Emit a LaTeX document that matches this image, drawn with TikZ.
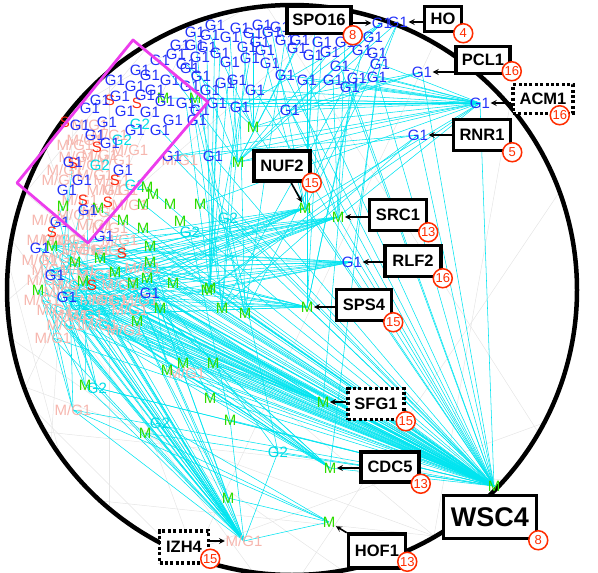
\documentclass[tikz,border=0pt]{standalone}
\usepackage{fontspec}
\setmainfont{Liberation Sans}
\usepackage{xcolor}
\usetikzlibrary{arrows, positioning}
\definecolor{gonecol}{RGB}{35,50,250}
\definecolor{mcol}{RGB}{45,220,0}
\definecolor{scol}{RGB}{255,40,15}
\definecolor{gtwocol}{RGB}{0,220,230}
\definecolor{mgonecol}{RGB}{246,182,174}
\definecolor{linkcol}{RGB}{0,228,240}
\definecolor{badgecol}{RGB}{255,45,0}
\definecolor{zoomcol}{RGB}{236,60,236}
\tikzstyle{arrow} = [line width=1.6pt,->,>=stealth]

\begin{document}
\begin{tikzpicture}[
                x=1pt, y=-1pt,
                box/.style={
                    draw,
                    fill=white,
                    line width=3.5pt,
                    inner sep=1pt,
                    font=\bfseries\fontsize{16.5}{18}\selectfont
                },
                dotbox/.style={
                    box,
                    dash pattern=on 3pt off 2.4pt
                },
                badge/.style={
                    circle,
                    draw=badgecol,
                    fill=white,
                    line width=1.5pt,
                    text=badgecol,
                    inner sep=0pt,
                    minimum size=19pt,
                    font=\fontsize{13}{13}\selectfont
                },
                lbl/.style={inner sep=0.5pt, font=\fontsize{15}{15}\selectfont},
                gone/.style={lbl, text=gonecol},
                mlab/.style={lbl, text=mcol},
                slab/.style={lbl, text=scol},
                gtwo/.style={lbl, text=gtwocol},
                mgone/.style={lbl, text=mgonecol},
                link/.style={draw=linkcol, line width=0.55pt},
                faint/.style={draw=black!10, line width=0.5pt},
                zoomframe/.style={draw=zoomcol, line width=2.8pt, line join=round}
            ]

                \useasboundingbox (0,0) rectangle (598,573);
                \coordinate (ctr) at (292,290);

                % points
                \foreach \n/\x/\y in {1/210/35, 2/230/37, 3/253/33, 4/262/25, 5/272/32, 6/260/42, 7/247/47, 8/220/53,
                    9/207/47, 10/270/63, 11/250/58, 12/230/62, 13/297/48, 14/313/55, 15/300/40, 16/322/42,
                    17/307/80, 18/333/80, 19/350/87, 20/357/78, 21/377/77, 22/380/64, 23/377/53, 24/373/37,
                    25/237/80, 26/240/107, 27/290/110, 28/217/103, 29/225/83, 30/190/68, 31/172/156, 32/213/156,
                    33/160/60, 34/176/54, 35/186/64, 36/150/75, 37/170/80, 38/190/86, 39/135/86, 40/120/96,
                    41/145/95, 42/165/101, 43/186/103, 44/201/76, 45/125/111, 46/150/112, 47/173/120, 48/197/120,
                    49/107/122, 50/110/143, 51/123/170, 52/73/162, 53/67/190, 54/82/180, 55/40/248, 56/67/297,
                    57/150/293, 58/95/135, 59/88/210, 60/60/222, 61/280/27, 62/200/57, 63/104/236, 64/55/275,
                    65/195/32, 66/240/28, 67/215/25, 68/285/40, 69/265/50, 70/315/30, 71/330/52, 72/345/42,
                    73/362/50, 74/340/66, 75/285/75, 76/255/90, 77/210/90, 78/195/45, 79/155/90, 80/140/70,
                    81/180/45, 82/200/110, 83/160/130, 84/135/130, 85/90/108, 86/115/80, 87/80/125, 88/100/100}
                    \coordinate (g\n) at (\x,\y);
                \foreach \n/\x/\y in {1/163/98, 2/195/98, 3/147/187, 4/153/194, 5/143/204, 6/170/204, 7/200/204,
                    8/180/221, 9/123/220, 10/143/228, 11/253/127, 12/238/162, 13/150/246, 14/150/262, 15/133/283,
                    16/210/288, 17/160/308, 18/222/308, 19/245/313, 20/83/281, 21/38/290, 22/147/278, 23/137/321,
                    24/183/363, 25/213/363, 26/167/370, 27/210/398, 28/230/420, 29/145/433, 30/228/498, 31/85/385,
                    32/63/206, 33/52/246, 34/75/262, 35/100/258, 36/115/272, 37/173/283, 38/207/290, 39/98/208}
                    \coordinate (m\n) at (\x,\y);
                \foreach \n/\x/\y in {1/110/100, 2/137/103, 3/97/147, 4/73/163, 5/115/180, 6/83/200, 7/108/202,
                    8/122/253, 9/65/122, 10/52/232, 11/92/285}
                    \coordinate (s\n) at (\x,\y);
                \foreach \n/\x/\y in {1/190/232, 2/228/218, 3/80/305, 4/97/388, 5/160/423, 6/278/452, 7/122/140,
                    8/100/165, 9/135/185, 10/140/124}
                    \coordinate (q\n) at (\x,\y);
                \foreach \n/\x/\y in {1/77/157, 2/180/160, 3/50/270, 4/143/268, 5/53/338, 6/187/373, 7/73/410,
                    8/60/180, 9/80/200, 10/50/220, 11/70/240, 12/40/260, 13/92/250, 14/110/228, 15/62/292,
                    16/100/212, 17/120/190, 18/42/300, 19/78/270, 20/98/300, 21/112/180, 22/130/150, 23/85/140,
                    24/95/175, 25/70/315, 26/120/240, 27/60/258, 28/90/125, 29/110/135, 30/75/145, 31/100/155,
                    32/65/170, 33/88/165, 34/105/190, 35/75/215, 36/95/225, 37/60/240, 38/80/250, 39/110/250,
                    40/45/280, 41/70/285, 42/95/275, 43/120/285, 44/55/310, 45/85/315, 46/110/300, 47/130/310,
                    48/65/325, 49/100/325, 50/125/330, 51/140/300, 52/45/240, 53/130/205, 54/115/160}
                    \coordinate (p\n) at (\x,\y);

                \coordinate (spoG) at (382,23);
                \coordinate (hoG) at (398,22);
                \coordinate (pclG) at (422,72);
                \coordinate (acmG) at (480,103);
                \coordinate (rnrG) at (418,135);
                \coordinate (rlfG) at (352,262);
                \coordinate (nufM) at (305,208);
                \coordinate (srcM) at (338,217);
                \coordinate (spsM) at (307,307);
                \coordinate (sfgM) at (323,402);
                \coordinate (cdcM) at (330,468);
                \coordinate (hofM) at (329,522);
                \coordinate (wscM) at (494,486);
                \coordinate (izhP) at (244,541);

                % background chords
                \foreach \a/\b in {110/200, 130/230, 150/250, 170/262, 190/280, 200/300, 210/318, 95/330, 60/250,
                    40/300, 20/272, 80/182, 140/212, 228/300, 248/332, 160/300, 120/160, 100/140, 175/215, 205/245}
                    \draw[faint] ([shift={(\a:284pt)}]ctr) -- ([shift={(\b:284pt)}]ctr);

                % links
                \foreach \p in {m3,m5,m7,m9,m10,m13,m14,m15,m16,m17,m18,m19,m20,m21,m22,m23,m24,m25,m26,m27,m28,
                    m29,m31,m33,m34,m35,m36,m37,m38,m39,nufM,srcM,spsM,sfgM,cdcM,g17,g19,g21,g26,g27,g31,g32,
                    g55,g56,g57,g63,g64,acmG,rlfG,rnrG,pclG,p3,p4,p5,p6,p7,p13,p15,p18,p19,p20,p25,q2,q3,q4,q6,s8,s11,
                    p40,p41,p42,p43,p44,p45,p46,p47,p48,p49,p50,p51,g74,g75,g76,g83}
                    \draw[link] (wscM) -- (\p);
                \foreach \p in {p3,p5,p7,p11,p12,p15,p18,p19,p20,p25,p27,m20,m21,m31,m15,m17,m23,m29,m33,m34,
                    q3,q4,q6,g55,g56,hofM,m28,m30,p44,p48,p41,p40}
                    \draw[link] (izhP) -- (\p);
                \foreach \p in {g17,g18,g19,g20,g21,g22,g27,g26,m11,m12,nufM,srcM,g31,g32,m1,m2,m7,g28,m16,g74,g75,g76}
                    \draw[link] (acmG) -- (\p);
                \foreach \s in {srcM,spsM,nufM,rlfG,sfgM,cdcM}
                    \foreach \p in {p3,p13,p15,p19,m20,m33,m35,g56,p25,q3,p45}
                        \draw[link] (\s) -- (\p);
                \foreach \a/\b in {g10/m11, g13/m12, g14/nufM, g17/spsM, g18/srcM, g20/spsM, g22/rlfG, g23/m19,
                    g24/m18, g12/m16, g25/m18, g29/m12, g26/m19, g28/m16, g3/m11, g5/nufM, g61/srcM, g15/m12,
                    g16/spsM, g19/sfgM, g21/cdcM, g11/m38, g27/srcM, g8/m16, rnrG/m16, rnrG/m18, rnrG/m12,
                    pclG/m11, pclG/g27, spoG/g17, spoG/m12, hoG/g21, hoG/nufM, m13/m24, m14/m26, q1/m28, q2/q6,
                    m15/m30, m17/m30, m22/m27, p4/q6, m23/m30, p12/p7, m21/m31, p3/q4, m20/p5, m33/m31, p18/p7,
                    p15/q4, hofM/m29, hofM/q5, hofM/p7, hofM/m30, g1/m11, g2/m12, g4/g27, g6/nufM, g7/m18,
                    g9/m16, g30/m19, g44/m12, g43/m16, g38/m18, g48/m19, g33/m12, g35/m11, g52/p5, g53/p7,
                    g59/m31, g60/q4, s6/p15, m32/p12, g70/nufM, g72/srcM, g73/spsM, g71/m12, g68/m19, g66/m11,
                    g65/m18, g67/m16, spoG/g27, spoG/g26, hoG/m12, pclG/g26, rnrG/g31}
                    \draw[link] (\a) -- (\b);

                \draw[line width=4.5pt] (ctr) circle[radius=285pt];

                % labels
                \foreach \n in {1,...,54} \node[mgone] at (p\n) {M/G1};
                \foreach \n in {1,...,10} \node[gtwo] at (q\n) {G2};
                \foreach \n in {1,...,39} \node[mlab] at (m\n) {M};
                \foreach \n in {1,...,11} \node[slab] at (s\n) {S};
                \foreach \n in {1,...,88} \node[gone] at (g\n) {G1};
                \foreach \p in {spoG,hoG,pclG,acmG,rnrG,rlfG} \node[gone] (t\p) at (\p) {G1};
                \foreach \p in {nufM,srcM,spsM,sfgM,cdcM,hofM,wscM} \node[mlab] (t\p) at (\p) {M};
                \node[mgone] (tizhP) at (izhP) {M/G1};

                \draw[zoomframe] (133,40) -- (208,102) -- (88,243) -- (17,183) -- cycle;

                % genes
                \node[box, minimum width=64pt, minimum height=27pt] (spo) at (319,20) {SPO16};
                \node[box, minimum width=37pt, minimum height=25pt] (ho) at (443,19) {HO};
                \node[box, minimum width=54pt, minimum height=27pt] (pcl) at (483,60) {PCL1};
                \node[dotbox, minimum width=60pt, minimum height=29pt] (acm) at (543,99) {ACM1};
                \node[box, minimum width=57pt, minimum height=31pt] (rnr) at (482,135) {RNR1};
                \node[box, minimum width=56pt, minimum height=30pt] (nuf) at (282,166) {NUF2};
                \node[box, minimum width=57pt, minimum height=31pt] (src) at (398,215) {SRC1};
                \node[box, minimum width=56pt, minimum height=31pt] (rlf) at (413,261) {RLF2};
                \node[box, minimum width=55pt, minimum height=31pt] (sps) at (364,305) {SPS4};
                \node[dotbox, minimum width=56pt, minimum height=31pt] (sfg) at (376,404) {SFG1};
                \node[box, minimum width=58pt, minimum height=30pt] (cdc) at (390,467) {CDC5};
                \node[box, minimum width=93pt, minimum height=43pt, font=\bfseries\fontsize{27}{30}\selectfont] (wsc) at (490,517) {WSC4};
                \node[box, minimum width=57pt, minimum height=34pt] (hof) at (377,551) {HOF1};
                \node[dotbox, minimum width=49pt, minimum height=32pt] (izh) at (184,547) {IZH4};

                \node[badge] at (spo.south east) {8};
                \node[badge] at (ho.south east) {4};
                \node[badge] at ([yshift=4pt]pcl.south east) {16};
                \node[badge] at ([xshift=-15pt]acm.south east) {16};
                \node[badge] at (rnr.south east) {5};
                \node[badge] at (nuf.south east) {15};
                \node[badge] at (src.south east) {13};
                \node[badge] at (rlf.south east) {16};
                \node[badge] at (sps.south east) {15};
                \node[badge] at (sfg.south east) {15};
                \node[badge] at (cdc.south east) {13};
                \node[badge] at (wsc.south east) {8};
                \node[badge] at ([yshift=8pt]hof.south east) {13};
                \node[badge] at ([yshift=6pt]izh.south east) {15};

                \draw[arrow] (spo.east |- tspoG) -- (tspoG);
                \draw[arrow] (ho.west |- thoG) -- (thoG);
                \draw[arrow] (pcl.west |- tpclG) -- (tpclG);
                \draw[arrow] (acm.west |- tacmG) -- (tacmG);
                \draw[arrow] (rnr.west |- trnrG) -- (trnrG);
                \draw[arrow] (nuf) -- (tnufM);
                \draw[arrow] (src.west |- tsrcM) -- (tsrcM);
                \draw[arrow] (rlf.west |- trlfG) -- (trlfG);
                \draw[arrow] (sps.west |- tspsM) -- (tspsM);
                \draw[arrow] (sfg.west |- tsfgM) -- (tsfgM);
                \draw[arrow] (cdc.west |- tcdcM) -- (tcdcM);
                \draw[arrow] (hof) -- (thofM);
                \draw[arrow] (izh.east |- tizhP) -- (tizhP);

            \end{tikzpicture}
\end{document}
